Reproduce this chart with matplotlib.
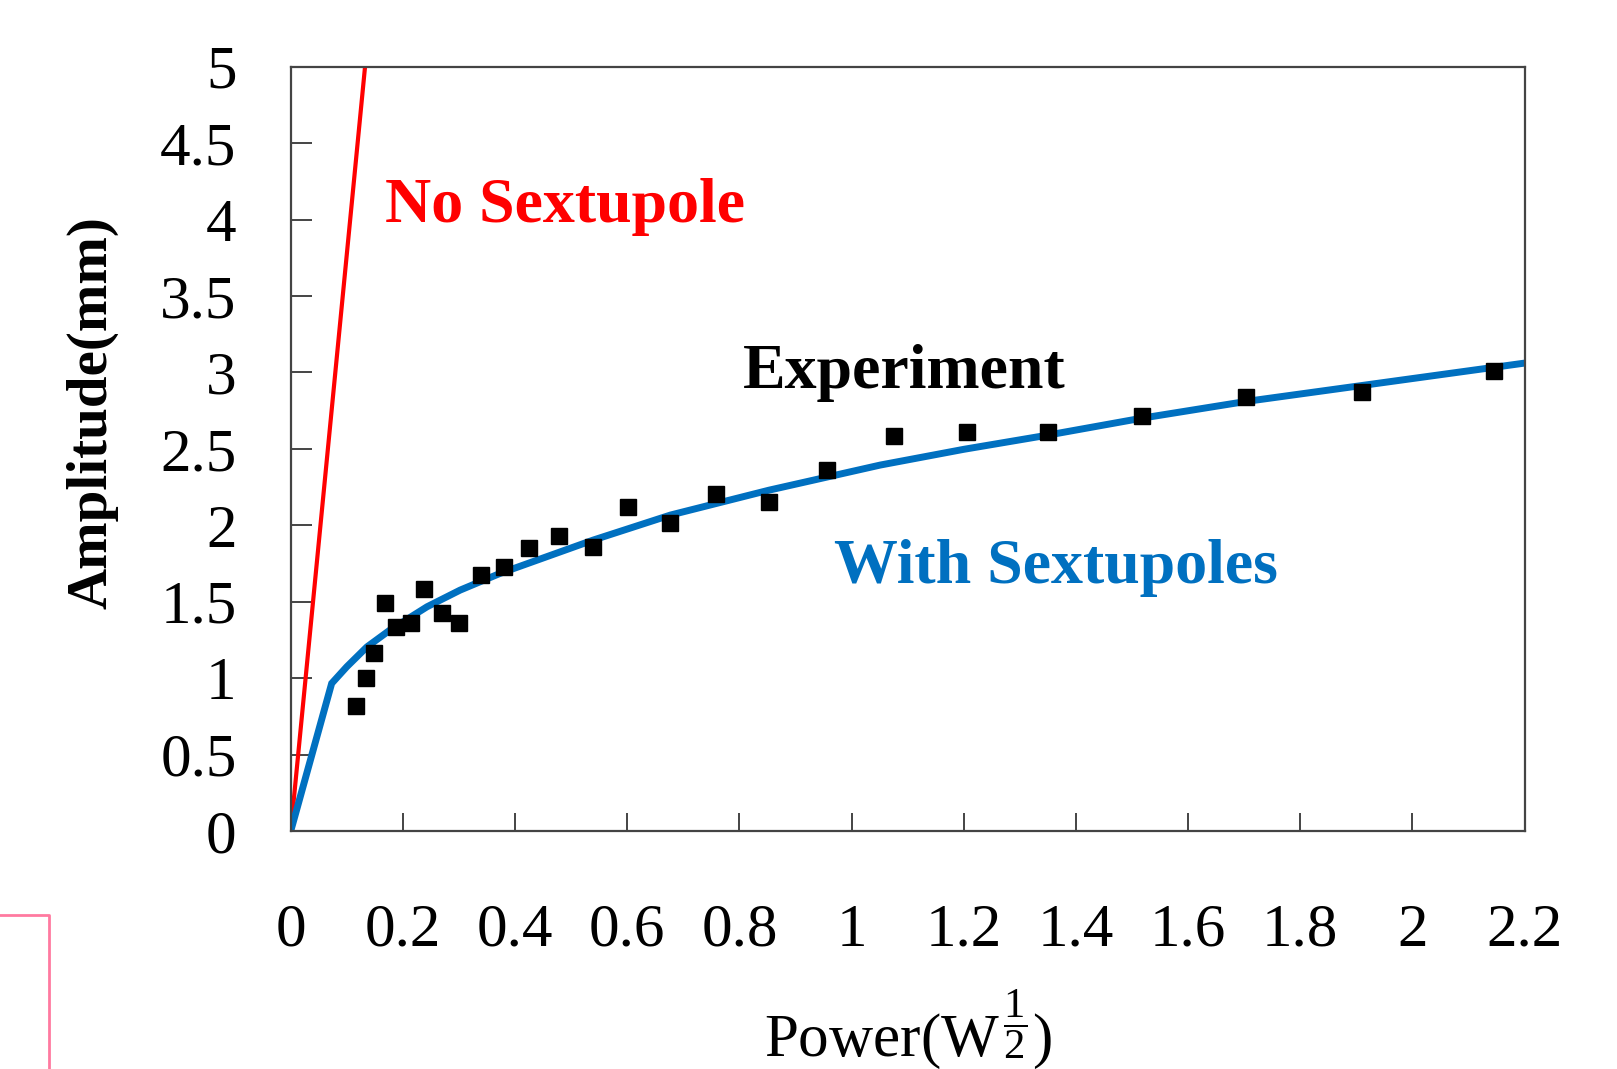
import matplotlib as mpl
mpl.use('Agg')
import matplotlib.pyplot as plt
from matplotlib.lines import Line2D

plt.rcParams['font.family'] = ['Liberation Serif', 'DejaVu Serif']
plt.rcParams['mathtext.fontset'] = 'custom'
plt.rcParams['mathtext.rm'] = 'Liberation Serif'
plt.rcParams['mathtext.it'] = 'Liberation Serif:italic'
plt.rcParams['mathtext.bf'] = 'Liberation Serif:bold'

# measured amplitude vs sqrt(power)
exp_x = [0.116, 0.134, 0.149, 0.168, 0.188, 0.214, 0.238, 0.269, 0.300,
         0.339, 0.381, 0.425, 0.479, 0.539, 0.602, 0.677, 0.759, 0.853,
         0.956, 1.076, 1.206, 1.350, 1.518, 1.703, 1.911, 2.145]
exp_y = [0.818, 1.003, 1.162, 1.489, 1.332, 1.358, 1.583, 1.428, 1.358,
         1.676, 1.729, 1.849, 1.931, 1.855, 2.121, 2.012, 2.202, 2.150,
         2.361, 2.583, 2.611, 2.611, 2.716, 2.840, 2.869, 3.008]

# simulation with sextupoles
sext_x = [0.0, 0.073, 0.100, 0.136, 0.177, 0.243, 0.302, 0.373, 0.539,
          0.677, 0.853, 1.051, 1.200, 1.350, 1.518, 1.703, 1.911, 2.2]
sext_y = [0.0, 0.966, 1.075, 1.205, 1.315, 1.467, 1.576, 1.685, 1.903,
          2.067, 2.230, 2.394, 2.497, 2.590, 2.701, 2.810, 2.915, 3.061]

# linear response, no sextupole
nosext_x = [0.0, 0.1325]
nosext_y = [0.0, 5.0]

xticks = [0, 0.2, 0.4, 0.6, 0.8, 1, 1.2, 1.4, 1.6, 1.8, 2, 2.2]
xticklabels = ['0', '0.2', '0.4', '0.6', '0.8', '1', '1.2', '1.4', '1.6', '1.8', '2', '2.2']
yticks = [0, 0.5, 1, 1.5, 2, 2.5, 3, 3.5, 4, 4.5, 5]
yticklabels = ['0', '0.5', '1', '1.5', '2', '2.5', '3', '3.5', '4', '4.5', '5']

fig = plt.figure(figsize=(16.17, 10.69), dpi=100)
ax = fig.add_axes([0.1798, 0.2226, 0.7630, 0.7150])

ax.plot(nosext_x, nosext_y, color='#ff0000', lw=3.0, solid_capstyle='butt')
ax.plot(sext_x, sext_y, color='#0070c0', lw=5.0, solid_joinstyle='miter')
ax.plot(exp_x, exp_y, 's', color='black', ms=12, ls='none')

ax.set_xlim(0, 2.2)
ax.set_ylim(0, 5)
ax.set_xticks(xticks)
ax.set_xticklabels(xticklabels)
ax.set_yticks(yticks)
ax.set_yticklabels(yticklabels)

for s in ax.spines.values():
    s.set_color('#444444')
    s.set_linewidth(1.6)
ax.tick_params(axis='both', direction='in', color='#444444', width=1.4,
               labelsize=44)
ax.tick_params(axis='y', length=15, pad=39)
ax.tick_params(axis='x', length=13, pad=52)

ax.set_ylabel('Amplitude(mm)', fontsize=41, fontweight='bold')
ax.yaxis.set_label_coords(-0.14, 0.548)
ax.set_xlabel(r'Power(W$^{\,\dfrac{1}{2}}$)', fontsize=44)
ax.xaxis.set_label_coords(0.5, -0.205)

ax.text(0.168, 3.985, 'No Sextupole', color='#ff0000', fontsize=46,
        fontweight='bold', ha='left', va='baseline')
ax.text(0.807, 2.895, 'Experiment', color='black', fontsize=46,
        fontweight='bold', ha='left', va='baseline')
ax.text(0.968, 1.624, 'With Sextupoles', color='#0070c0', fontsize=46,
        fontweight='bold', ha='left', va='baseline')

# pink frame corner in the lower left
fig.add_artist(Line2D([0.0, 0.0305, 0.0305], [0.144, 0.144, 0.0],
                      transform=fig.transFigure, color='#ff7aa0', lw=2.0))

fig.savefig('out.png', dpi=100)
